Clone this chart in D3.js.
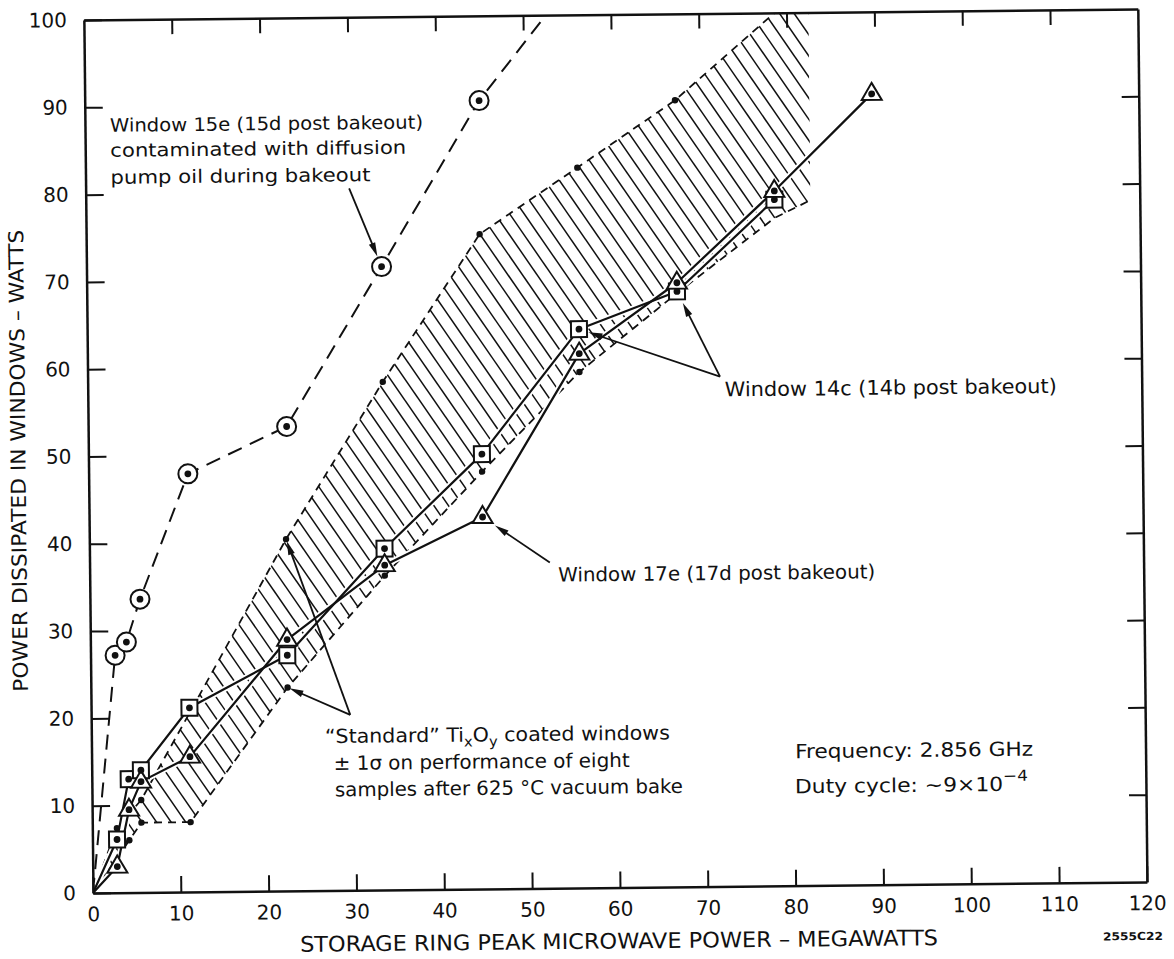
<!DOCTYPE html>
<html>
<head>
<meta charset="utf-8">
<script src="https://cdn.jsdelivr.net/npm/d3@7"></script>
<style>
  html, body { margin: 0; background: #fff; }
  svg { display: block; }
</style>
</head>
<body>
<svg id="chart" width="1174" height="959"></svg>
<script>
// ---- Readings: peak RF power (MW) vs. power dissipated in the window (W) ----
// Window 15e (dashed, circled points); the last reading lies off scale above 100 W
const win15eX = [0, 2.8, 4.1, 5.7, 11.3, 22.6, 33.6, 44.9, 56];
const win15eY = [0, 27.2, 28.7, 33.6, 47.9, 53.2, 71.4, 90.3, 104.3];
// Window 14c (squares)
const win14cX = [0, 2.8, 4.2, 5.6, 11.2, 22.4, 33.6, 44.8, 56, 67.2, 78.4];
const win14cY = [0, 6.1, 13.0, 14.0, 21.1, 27.0, 39.1, 49.8, 64.0, 68.2, 78.6];
// Window 17e (triangles)
const win17eX = [0, 2.8, 4.2, 5.6, 11.2, 22.4, 33.6, 44.8, 56, 67.2, 78.4, 89.6];
const win17eY = [0, 3.0, 9.5, 12.7, 15.5, 28.8, 37.2, 42.6, 61.2, 69.2, 79.6, 90.6];
// "Standard" windows, +/- 1 sigma band edges
const bandUpperX = [0, 2.8, 5.6, 22.4, 33.6, 44.8, 56, 67.2, 78.4, 82.5];
const bandUpperY = [0, 7.4, 10.6, 40.3, 58.2, 75.0, 82.5, 90.1, 99.8, 103];
const bandLowerX = [0, 4.2, 5.6, 11.2, 22.4, 33.6, 44.8, 56, 67.2, 78.4, 82.5];
const bandLowerY = [0, 6.0, 8.0, 8.0, 23.3, 36.0, 47.8, 59.1, 68.0, 76.5, 78.5];
// Axis ticks
const xTicks = [0, 10, 20, 30, 40, 50, 60, 70, 80, 90, 100, 110, 120];
const yTicks = [0, 10, 20, 30, 40, 50, 60, 70, 80, 90, 100];

const FONT = "'DejaVu Sans', 'Liberation Sans', sans-serif";
const svg = d3.select("#chart");

const x = d3.scaleLinear().domain([0, 120]).range([93, 1147]);
const y = d3.scaleLinear().domain([0, 100]).range([893, 20]);

// whole drawing sits slightly tilted, pivoting on the origin
const root = svg.append("g").attr("transform", `rotate(-0.6 ${x(0)} ${y(0)})`);

const defs = root.append("defs");
defs.append("clipPath").attr("id", "frameClip").append("rect")
  .attr("x", x(0)).attr("y", y(100))
  .attr("width", x(120) - x(0)).attr("height", y(0) - y(100));

const toPts = (xs, ys) => xs.map((v, i) => [x(v), y(ys[i])]);
const upperPts = toPts(bandUpperX, bandUpperY);
const lowerPts = toPts(bandLowerX, bandLowerY);
const bandPoly = upperPts.concat(lowerPts.slice().reverse());
defs.append("clipPath").attr("id", "bandClip").append("polygon")
  .attr("points", bandPoly.map(p => p.join(",")).join(" "));

const plot = root.append("g").attr("clip-path", "url(#frameClip)");

// ---- hatched sigma band ----
const ang = 56 * Math.PI / 180;
const dX = Math.cos(ang), dY = Math.sin(ang);   // hatch direction (down-right)
const nX = -dY, nY = dX;                        // normal to the hatch
const ks = bandPoly.map(p => p[0] * nX + p[1] * nY);
const hatchK = d3.range(d3.min(ks) + 3, d3.max(ks), 12);
plot.append("g").attr("clip-path", "url(#bandClip)")
  .selectAll("line").data(hatchK).join("line")
  .attr("x1", k => k * nX - 2500 * dX).attr("y1", k => k * nY - 2500 * dY)
  .attr("x2", k => k * nX + 2500 * dX).attr("y2", k => k * nY + 2500 * dY)
  .attr("stroke", "#111").attr("stroke-width", 1.5);

const pxLine = d3.line();
plot.append("path").attr("d", pxLine(upperPts))
  .attr("fill", "none").attr("stroke", "#111").attr("stroke-width", 1.8)
  .attr("stroke-dasharray", "8,6");
plot.append("path").attr("d", pxLine(lowerPts))
  .attr("fill", "none").attr("stroke", "#111").attr("stroke-width", 1.8)
  .attr("stroke-dasharray", "8,6");

// ---- window 15e, dashed ----
plot.append("path").attr("d", pxLine(toPts(win15eX, win15eY)))
  .attr("fill", "none").attr("stroke", "#111").attr("stroke-width", 2)
  .attr("stroke-dasharray", "15,9");

// ---- windows 14c and 17e, solid with a white casing that breaks the hatch ----
const solid = [toPts(win14cX, win14cY), toPts(win17eX, win17eY)];
solid.forEach(pts => plot.append("path").attr("d", pxLine(pts))
  .attr("fill", "none").attr("stroke", "#fff").attr("stroke-width", 6)
  .attr("stroke-linejoin", "round"));
solid.forEach(pts => plot.append("path").attr("d", pxLine(pts))
  .attr("fill", "none").attr("stroke", "#111").attr("stroke-width", 2.2)
  .attr("stroke-linejoin", "round"));

// band edge dots
const bandDots = upperPts.slice(1, 8).concat(lowerPts.slice(1, 9));
plot.append("g").selectAll("circle").data(bandDots).join("circle")
  .attr("cx", d => d[0]).attr("cy", d => d[1]).attr("r", 3.2).attr("fill", "#111");

// ---- markers ----
const mk = root.append("g");
const circ = toPts(win15eX, win15eY).filter((p, i) => i > 0 && win15eY[i] <= 100);
mk.selectAll(".c").data(circ).join("circle").attr("class", "c")
  .attr("cx", d => d[0]).attr("cy", d => d[1]).attr("r", 9.5)
  .attr("fill", "#fff").attr("stroke", "#111").attr("stroke-width", 2);
const sq = toPts(win14cX, win14cY).slice(1);
mk.selectAll(".s").data(sq).join("rect").attr("class", "s")
  .attr("x", d => d[0] - 8).attr("y", d => d[1] - 8).attr("width", 16).attr("height", 16)
  .attr("fill", "#fff").attr("stroke", "#111").attr("stroke-width", 2);
const tri = toPts(win17eX, win17eY).slice(1);
mk.selectAll(".t").data(tri).join("path").attr("class", "t")
  .attr("d", d => `M${d[0]},${d[1] - 11}L${d[0] + 10},${d[1] + 6}L${d[0] - 10},${d[1] + 6}Z`)
  .attr("fill", "#fff").attr("stroke", "#111").attr("stroke-width", 2)
  .attr("stroke-linejoin", "miter");
mk.selectAll(".d").data(circ.concat(sq, tri)).join("circle").attr("class", "d")
  .attr("cx", d => d[0]).attr("cy", d => d[1]).attr("r", 3.4).attr("fill", "#111");

// ---- axes (ticks point inward on all four sides) ----
function styleAxis(g) {
  g.select(".domain").attr("stroke", "#111").attr("stroke-width", 2.5);
  g.selectAll(".tick line").attr("stroke", "#111").attr("stroke-width", 2);
  g.selectAll(".tick text").attr("fill", "#111").attr("font-family", FONT).attr("font-size", 20);
}
root.append("g").attr("transform", `translate(0,${y(0)})`)
  .call(d3.axisBottom(x).tickValues(xTicks).tickFormat(d3.format("d"))
    .tickSizeInner(-16).tickSizeOuter(0).tickPadding(14))
  .call(styleAxis);
root.append("g").attr("transform", `translate(0,${y(100)})`)
  .call(d3.axisTop(x).tickValues(xTicks.slice(1, -1)).tickFormat("")
    .tickSizeInner(-15).tickSizeOuter(0))
  .call(styleAxis);
root.append("g").attr("transform", `translate(${x(0)},0)`)
  .call(d3.axisLeft(y).tickValues(yTicks).tickFormat(d3.format("d"))
    .tickSizeInner(-18).tickSizeOuter(0).tickPadding(17))
  .call(styleAxis);
root.append("g").attr("transform", `translate(${x(120)},0)`)
  .call(d3.axisRight(y).tickValues(yTicks.slice(1, -1)).tickFormat("")
    .tickSizeInner(-17).tickSizeOuter(0))
  .call(styleAxis);

// ---- axis titles ----
root.append("text")
  .attr("x", 618.5).attr("y", 954).attr("text-anchor", "middle")
  .attr("font-family", FONT).attr("font-size", 21.5).attr("fill", "#111")
  .attr("textLength", 638).attr("lengthAdjust", "spacingAndGlyphs")
  .text("STORAGE RING PEAK MICROWAVE POWER – MEGAWATTS");
root.append("text")
  .attr("transform", "translate(30,460) rotate(-90)").attr("text-anchor", "middle")
  .attr("font-family", FONT).attr("font-size", 20.5).attr("fill", "#111")
  .attr("textLength", 462).attr("lengthAdjust", "spacingAndGlyphs")
  .text("POWER DISSIPATED IN WINDOWS – WATTS");
root.append("text")
  .attr("x", 1102.5).attr("y", 951)
  .attr("font-family", FONT).attr("font-size", 11).attr("font-weight", "bold").attr("fill", "#111")
  .attr("textLength", 60).attr("lengthAdjust", "spacingAndGlyphs")
  .text("2555C22");

// ---- annotations ----
const ann = root.append("g").attr("fill", "#111").attr("font-family", FONT);
function note(px, py, size, width, str) {
  return ann.append("text").attr("x", px).attr("y", py).attr("font-size", size)
    .attr("textLength", width).attr("lengthAdjust", "spacingAndGlyphs").text(str);
}
function arrow(from, to, backoff) {
  const sx = x(from[0]), sy = y(from[1]);
  const tx0 = x(to[0]), ty0 = y(to[1]);
  const L = Math.hypot(tx0 - sx, ty0 - sy);
  const ux = (tx0 - sx) / L, uy = (ty0 - sy) / L;
  const tx = tx0 - ux * backoff, ty = ty0 - uy * backoff;
  ann.append("line").attr("x1", sx).attr("y1", sy).attr("x2", tx - ux * 6).attr("y2", ty - uy * 6)
    .attr("stroke", "#111").attr("stroke-width", 1.8);
  const hl = 14, hw = 3.4;
  const bx = tx - ux * hl, by = ty - uy * hl;
  ann.append("path")
    .attr("d", `M${tx},${ty}L${bx - uy * hw},${by + ux * hw}L${bx + uy * hw},${by - ux * hw}Z`)
    .attr("fill", "#111");
}

note(118, 132, 18.5, 313, "Window 15e (15d post bakeout)");
note(118, 157, 18.5, 296, "contaminated with diffusion");
note(118, 184, 18.5, 260, "pump oil during bakeout");
arrow([30.0, 80.4], [win15eX[6], win15eY[6]], 11);

note(730, 403, 20, 332, "Window 14c (14b post bakeout)");
arrow([72.0, 58.4], [win14cX[8], win14cY[8]], 10);
arrow([72.0, 58.4], [win14cX[9], win14cY[9]], 13);

note(561.5, 586.5, 19.5, 317, "Window 17e (17d post bakeout)");
arrow([52.4, 37.3], [win17eX[7], win17eY[7]], 15);

const std1 = ann.append("text").attr("x", 326.5).attr("y", 745.5).attr("font-size", 19.5)
  .attr("textLength", 345).attr("lengthAdjust", "spacingAndGlyphs");
std1.append("tspan").text("\u201CStandard\u201D Ti");
std1.append("tspan").attr("dy", 5).attr("font-size", 14).text("x");
std1.append("tspan").attr("dy", -5).text("O");
std1.append("tspan").attr("dy", 5).attr("font-size", 14).text("y");
std1.append("tspan").attr("dy", -5).text(" coated windows");
note(335, 772.5, 19.5, 296, "\u00B1 1\u03C3 on performance of eight");
note(336, 799, 19.5, 348, "samples after 625 \u00B0C vacuum bake");
arrow([29.5, 20.1], [bandUpperX[3], bandUpperY[3]], 2);
arrow([29.5, 20.1], [bandLowerX[4], bandLowerY[4]], 2);

note(796.5, 765.5, 19.5, 238, "Frequency:  2.856 GHz");
const duty = ann.append("text").attr("x", 796).attr("y", 800.5).attr("font-size", 19.5)
  .attr("textLength", 233).attr("lengthAdjust", "spacingAndGlyphs");
duty.append("tspan").text("Duty cycle: ~9\u00D710");
duty.append("tspan").attr("dy", -10).attr("font-size", 15).text("\u22124");
</script>
</body>
</html>
